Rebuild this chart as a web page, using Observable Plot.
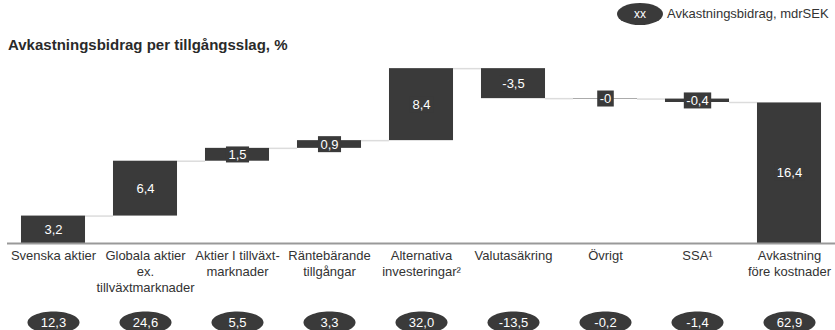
<!DOCTYPE html>
<html>
<head>
<meta charset="utf-8">
<script src="https://cdn.jsdelivr.net/npm/d3@7"></script>
<script src="https://cdn.jsdelivr.net/npm/@observablehq/plot@0.6"></script>
<style>
  html, body { margin: 0; padding: 0; background: #fff; }
  body { width: 835px; height: 330px; overflow: hidden; font-family: "Liberation Sans", Arial, sans-serif; color: #333; }
  #header { position: relative; width: 835px; height: 56px; }
  #legend-pill { position: absolute; left: 617px; top: 3px; width: 46px; height: 22px; border-radius: 50%; background: #3a3a3a; color: #fff; font-size: 12px; line-height: 22px; text-align: center; }
  #legend-text { position: absolute; left: 667px; top: 5px; font-size: 13px; line-height: 18px; color: #333; white-space: nowrap; }
  #title { position: absolute; left: 8px; top: 36px; font-size: 15px; line-height: 18px; font-weight: bold; color: #2a2a2a; white-space: nowrap; }
  #chart svg { display: block; }
</style>
</head>
<body>
<div id="header">
  <div id="legend-pill">xx</div>
  <div id="legend-text"></div>
  <div id="title"></div>
</div>
<div id="chart"></div>
<script>
// ---- data ----
const titleText = "Avkastningsbidrag per tillgångsslag, %";
const legendLabel = "Avkastningsbidrag, mdrSEK";
const categories = [
  "Svenska aktier",
  "Globala aktier\nex.\ntillväxtmarknader",
  "Aktier I tillväxt-\nmarknader",
  "Räntebärande\ntillgångar",
  "Alternativa\ninvesteringar²",
  "Valutasäkring",
  "Övrigt",
  "SSA¹",
  "Avkastning\nföre kostnader"
];
// contribution in %, last entry is the total
const contributions = [3.2, 6.4, 1.5, 0.9, 8.4, -3.5, -0.05, -0.4, 16.4];
const contributionLabels = ["3,2", "6,4", "1,5", "0,9", "8,4", "-3,5", "-0", "-0,4", "16,4"];
const mdrSEK = [12.3, 24.6, 5.5, 3.3, 32.0, -13.5, -0.2, -1.4, 62.9];

document.getElementById("title").textContent = titleText;
document.getElementById("legend-text").textContent = legendLabel;

// ---- build waterfall table ----
const half = 0.348; // half bar width in band units
let cum = 0;
const rows = categories.map((c, i) => {
  const isTotal = i === categories.length - 1;
  let y1, y2;
  if (isTotal) { y1 = 0; y2 = contributions[i]; }
  else { y1 = cum; y2 = cum + contributions[i]; cum = y2; }
  return {i, category: c, y1, y2, end: y2, label: contributionLabels[i], mdr: mdrSEK[i]};
});
const connectors = rows.slice(0, -1).map((r) => ({level: r.end, xa: r.i + half, xb: r.i + 1 - half}));

const fmt = (v) => v.toFixed(1).replace(".", ",");

const ellipse = {
  draw(context, size) {
    const rx = Math.sqrt(size / Math.PI), ry = rx * 11 / 26, k = 0.5523;
    context.moveTo(rx, 0);
    context.bezierCurveTo(rx, k * ry, k * rx, ry, 0, ry);
    context.bezierCurveTo(-k * rx, ry, -rx, k * ry, -rx, 0);
    context.bezierCurveTo(-rx, -k * ry, -k * rx, -ry, 0, -ry);
    context.bezierCurveTo(k * rx, -ry, rx, -k * ry, rx, 0);
    context.closePath();
  }
};

const dark = "#3a3a3a";

const plot = Plot.plot({
  width: 835,
  height: 274,
  marginLeft: 7,
  marginRight: 0,
  marginTop: 7,
  marginBottom: 87,
  style: {fontFamily: "'Liberation Sans', Arial, sans-serif", fontSize: "13px", background: "white", overflow: "hidden"},
  x: {type: "linear", domain: [-0.5, 8.5], axis: null},
  y: {domain: [0, 21], axis: null},
  marks: [
    Plot.ruleY(connectors, {y: "level", x1: "xa", x2: "xb", stroke: "#dcdcdc", strokeWidth: 1.5}),
    Plot.rect(rows, {x1: (d) => d.i - half, x2: (d) => d.i + half, y1: "y1", y2: "y2", fill: dark}),
    Plot.ruleY([0], {stroke: "#999", strokeWidth: 2}),
    Plot.text(rows, {x: "i", y: (d) => (d.y1 + d.y2) / 2, text: "label", fill: "white", fontSize: 13}),
    Plot.text(rows, {x: "i", y: 0, text: "category", lineAnchor: "top", dy: 5, fontSize: 13, lineHeight: 1.23, fill: "#333"}),
    Plot.dot(rows, {x: "i", y: 0, dy: 79, r: 26, symbol: ellipse, fill: dark, stroke: "none"}),
    Plot.text(rows, {x: "i", y: 0, dy: 79, text: (d) => fmt(d.mdr), fill: "white", fontSize: 13})
  ]
});

document.getElementById("chart").appendChild(plot);

// label boxes behind value labels (visible on thin bars); the first text mark holds the value labels
const textGroups = plot.querySelectorAll('g[aria-label="text"]');
const g = textGroups[0];
if (g) {
  g.querySelectorAll("text").forEach((t) => {
    const b = t.getBBox();
    const r = document.createElementNS("http://www.w3.org/2000/svg", "rect");
    r.setAttribute("x", b.x - 2.5);
    r.setAttribute("y", b.y - 0.5);
    r.setAttribute("width", b.width + 5);
    r.setAttribute("height", b.height + 1);
    r.setAttribute("fill", dark);
    const tr = t.getAttribute("transform");
    if (tr) r.setAttribute("transform", tr);
    t.parentNode.insertBefore(r, t);
  });
}
</script>
</body>
</html>
